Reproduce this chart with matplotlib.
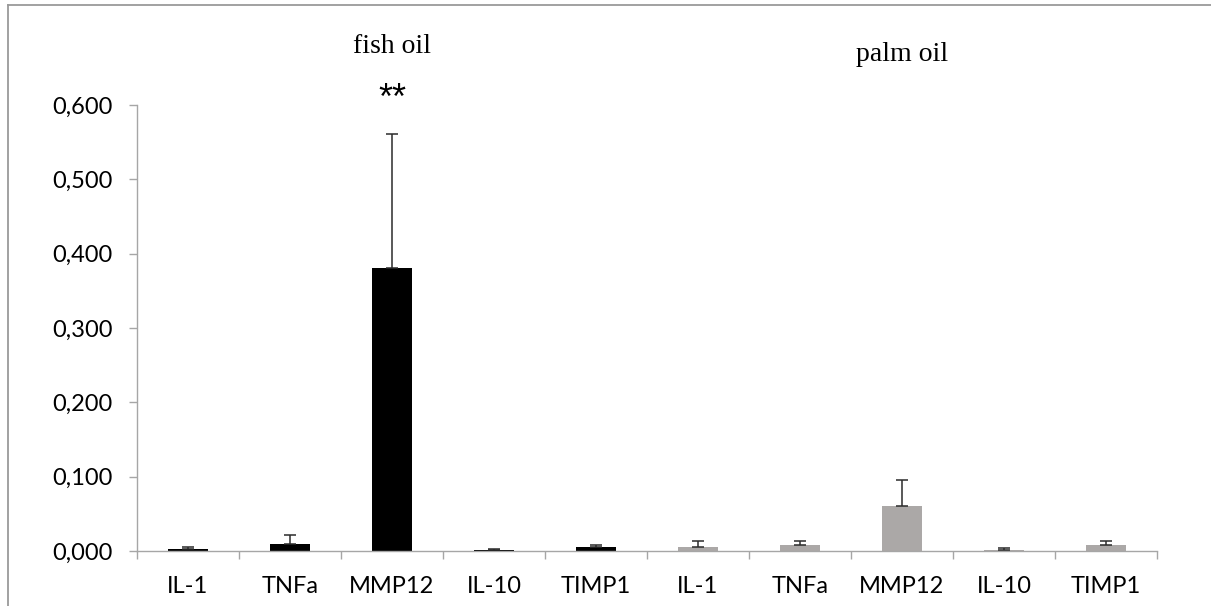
import numpy as np
import matplotlib
matplotlib.use("Agg")
import matplotlib.pyplot as plt
from matplotlib.lines import Line2D

# genes, repeated for both diets
GENES = ["IL-1", "TNFa", "MMP12", "IL-10", "TIMP1"]

# mean expression
fish_mean = [0.003, 0.010, 0.380, 0.001, 0.006]
palm_mean = [0.005, 0.008, 0.061, 0.001, 0.008]

# upper error (SD)
fish_err = [0.002, 0.011, 0.181, 0.001, 0.002]
palm_err = [0.009, 0.005, 0.034, 0.003, 0.006]

GRID = "#A6A6A6"

fig = plt.figure(figsize=(12.11, 6.06), dpi=100)
ax = fig.add_axes([0.1131, 0.0908, 0.8423, 0.7360])

labels = GENES + GENES
means = fish_mean + palm_mean
errs = fish_err + palm_err
colors = ["#000000"] * len(fish_mean) + ["#ABA8A7"] * len(palm_mean)
x = np.arange(len(labels))

ax.bar(x, means, width=0.39, color=colors, zorder=2)
ax.errorbar(x, means, yerr=[np.zeros(len(errs)), errs], fmt="none",
            ecolor="#2B2B2B", elinewidth=1.1, capsize=4.5, capthick=1.1, zorder=3)

ax.set_xlim(-0.5, len(labels) - 0.5)
ax.set_ylim(0, 0.6)
ax.set_yticks(np.arange(0, 0.61, 0.1))
ax.set_yticklabels([f"{v:.3f}".replace(".", ",") for v in np.arange(0, 0.61, 0.1)],
                   family="Lato", fontsize=17)

# labels in the middle of each slot, tick marks on the slot borders
ax.set_xticks(x)
ax.set_xticklabels(labels, family="Lato", fontsize=17)
ax.set_xticks(np.arange(-0.5, len(labels)), minor=True)
ax.tick_params(axis="x", which="major", length=0, pad=18)
ax.tick_params(axis="x", which="minor", length=8 * 0.72, width=1.0, color=GRID, direction="out")
ax.tick_params(axis="y", length=8 * 0.72, width=1.0, color=GRID, direction="out", pad=12)

for side in ["top", "right"]:
    ax.spines[side].set_visible(False)
for side in ["left", "bottom"]:
    ax.spines[side].set_color(GRID)
    ax.spines[side].set_linewidth(1.0)

# group titles over the MMP12 bars
ax.text(2, 0.678, "fish oil", family="Liberation Serif", fontsize=20,
        ha="center", va="center", clip_on=False)
ax.text(7, 0.668, "palm oil", family="Liberation Serif", fontsize=20,
        ha="center", va="center", clip_on=False)
ax.text(2, 0.607, "**", family="Liberation Sans", fontsize=26, ha="center", va="center",
        clip_on=False)

# frame of the original figure box: only left and top edges are inside the crop
x0 = 8 / 1211
y0 = 1 - 5 / 606
fig.lines.append(Line2D([x0, x0], [0, y0], transform=fig.transFigure,
                        color="#9A9A9A", linewidth=1.3))
fig.lines.append(Line2D([x0, 1], [y0, y0], transform=fig.transFigure,
                        color="#9A9A9A", linewidth=1.3))

fig.savefig("out.png", dpi=100)
